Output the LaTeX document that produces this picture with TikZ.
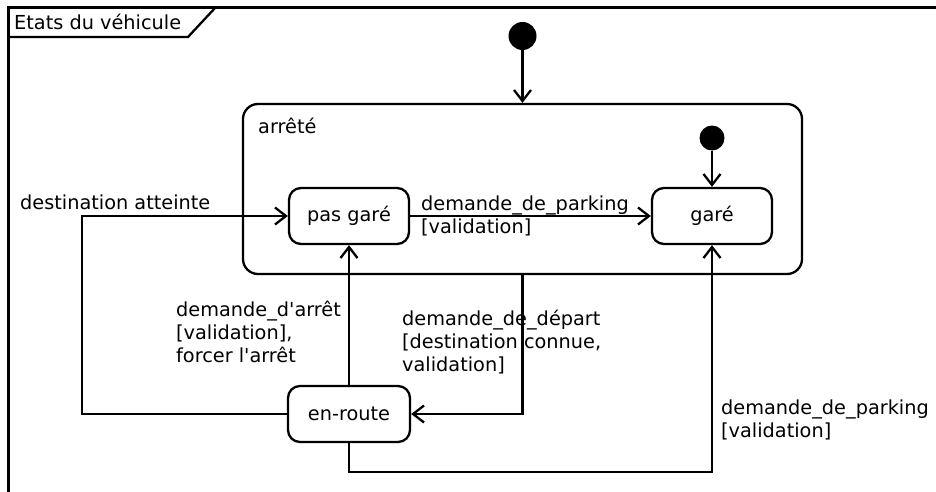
\documentclass[tikz,border=0pt]{standalone}
\usepackage{fontspec}
\setmainfont{DejaVu Sans}[Ligatures=TeXOff]
\usetikzlibrary{arrows.meta}
\begin{document}
\begin{tikzpicture}[x=1pt,y=-1pt,
  state/.style={draw, line width=2.3pt, rounded corners=12pt, minimum width=120pt, minimum height=56pt, inner sep=0pt, font=\fontsize{19.3}{23}\selectfont},
  trans/.style={line width=2.3pt, -{Straight Barb[length=11pt,width=17pt,line width=2.3pt]}},
  lbl/.style={inner sep=0pt, align=left, anchor=north west, font=\fontsize{19.3}{23}\selectfont},
  startdot/.style={circle, fill=black, inner sep=0pt, minimum size=28pt}]
\useasboundingbox (0,0) rectangle (936,492);
\fill[white] (0,0) rectangle (936,492);
% frame
\draw[line width=3pt] (940,8) -- (8,8) -- (8,496);
\draw[line width=2.3pt] (8,37) -- (188,37) -- (215,8);
\node[inner sep=0pt, anchor=base west, font=\fontsize{19.3}{23}\selectfont] (title) at (14,30) {Etats du véhicule};
% composite state
\node[draw, line width=2.3pt, rounded corners=15pt, minimum width=559pt, minimum height=170pt, inner sep=0pt] (arrete) at (522.5,189) {};
\node[inner sep=0pt, anchor=base west, font=\fontsize{19.3}{23}\selectfont] (arretelbl) at (258,133) {arrêté};
% initial states
\node[startdot] (init1) at (522.5,36) {};
\node[startdot, minimum size=25pt] (init2) at (712,138) {};
% states
\node[state] (pasgare) at (349,216) {pas garé};
\node[state] (gare) at (712,216) {garé};
\node[state, minimum width=122pt] (enroute) at (349,414) {en-route};
% corner coordinates
\coordinate (c1) at (82,216);
\coordinate (c2) at (349,472);
% transitions
\draw[trans] (init1) -- (arrete.north);
\draw[trans] (init2) -- (gare.north);
\draw[trans] (pasgare) -- (gare);
\draw[trans] (enroute.west) -| (c1) -- (pasgare.west);
\draw[trans] (enroute.north) -- (pasgare.south);
\draw[trans] (arrete.south) |- (enroute.east);
\draw[trans] (enroute.south) -- (c2) -| (gare.south);
% labels
\node[lbl, anchor=base west] (l1) at (20,209) {destination atteinte};
\node[lbl] (l2) at (421,196) {demande\_de\_parking\\{[}validation{]}};
\node[lbl] (l3) at (176,301) {demande\_d'arrêt\\{[}validation{]},\\forcer l'arrêt};
\node[lbl] (l4) at (402,310) {demande\_de\_départ\\{[}destination connue,\\validation{]}};
\node[lbl] (l5) at (721,400) {demande\_de\_parking\\{[}validation{]}};
\end{tikzpicture}
\end{document}
